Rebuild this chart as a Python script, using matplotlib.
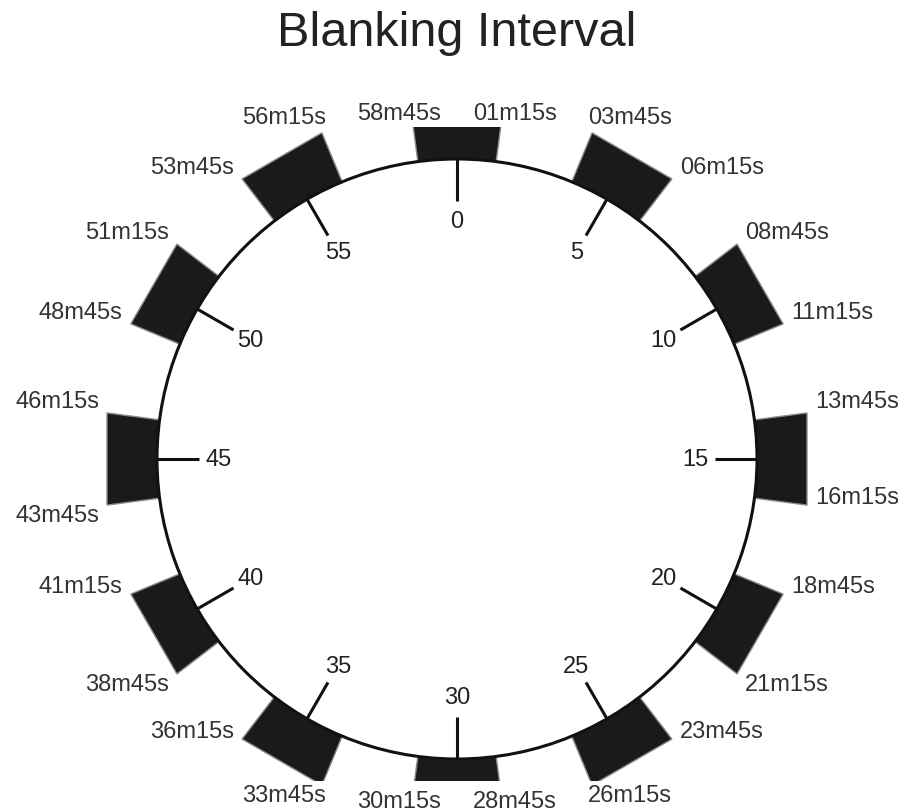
import numpy as np
import matplotlib
matplotlib.use('Agg')
import matplotlib.pyplot as plt
from matplotlib.patches import Polygon, Circle, Rectangle

plt.rcParams['font.family'] = ['Liberation Sans', 'DejaVu Sans']

# Data
title = 'Blanking Interval'
marks = [0, 5, 10, 15, 20, 25, 30, 35, 40, 45, 50, 55]   # minute marks on the dial
half_width = 1.25                                       # blanking lasts 1m15s either side
# labels of the start / end edge of each block, as printed on the chart
start_labels = ['58m45s', '03m45s', '08m45s', '13m45s', '18m45s', '23m45s',
                '28m45s', '33m45s', '38m45s', '43m45s', '48m45s', '53m45s']
end_labels = ['01m15s', '06m15s', '11m15s', '16m15s', '21m15s', '26m15s',
              '30m15s', '36m15s', '41m15s', '46m15s', '51m15s', '56m15s']

# Layout (pixels of the 902x812 image, radius of dial = 1 unit)
W, H = 902, 812
cx_px, cy_px, R_px = 457, 460, 300
px = 1.0 / R_px
r_out = 350 * px          # outer edge of the blocks
r_tick = 0.86             # inner end of tick lines
r_lab = 0.795             # radius of tick labels
clip_top, clip_bot = 332 * px, -322 * px

fig = plt.figure(figsize=(W / 100, H / 100), dpi=100)
ax = fig.add_axes([0, 0, 1, 1])
ax.set_xlim(-cx_px * px, (W - cx_px) * px)
ax.set_ylim(-(H - cy_px) * px, cy_px * px)
ax.axis('off')


def pt(theta, r):
    t = np.radians(theta)
    return r * np.sin(t), r * np.cos(t)


clip = Rectangle((-3, clip_bot), 6, clip_top - clip_bot, transform=ax.transData)
half_ang = half_width * 6
r_corner = r_out / np.cos(np.radians(half_ang))

for i, m in enumerate(marks):
    a0, a1 = (m - half_width) * 6, (m + half_width) * 6
    inner = [pt(a, 1.0) for a in np.linspace(a0, a1, 40)]
    outer = [pt(a1, r_corner), pt(a0, r_corner)]
    poly = Polygon(inner + outer, closed=True, facecolor='#1a1a1a',
                   edgecolor='#8a8a8a', lw=1.0, zorder=2)
    ax.add_patch(poly)
    poly.set_clip_path(clip)

    # tick and its label
    x0, y0 = pt(m * 6, 1.0)
    x1, y1 = pt(m * 6, r_tick)
    ax.plot([x0, x1], [y0, y1], color='#111111', lw=2.2, zorder=3,
            solid_capstyle='butt')
    lx, ly = pt(m * 6, r_lab)
    ax.text(lx, ly, str(m), ha='center', va='center', fontsize=17,
            color='#222222')

    # edge labels
    edges = [a0, a1]
    texts = [start_labels[i], end_labels[i]]
    cosv = [abs(np.cos(np.radians(th))) for th in edges]
    for k, th in enumerate(edges):
        s = 1 if np.sin(np.radians(th)) > 0 else -1
        c = np.cos(np.radians(th))
        ex, ey = pt(th, r_corner)
        if abs(c) > 0.95:
            tx = ex + s * 12 * px
            if c > 0:
                ax.text(tx, clip_top + 3 * px, texts[k], ha='center', va='bottom',
                        fontsize=17, color='#333333')
            else:
                ax.text(tx, clip_bot - 9 * px, texts[k], ha='center', va='top',
                        fontsize=17, color='#333333')
            continue
        dx = 8 if abs(c) < 0.9 else -4
        if c > 0:
            dy = 16 if abs(c) > 0.9 else 12
        elif cosv[k] < cosv[1 - k]:
            dy = 8
        else:
            dy = -10
        ax.text(ex + s * dx * px, ey + dy * px, texts[k],
                ha='left' if s > 0 else 'right', va='center',
                fontsize=17, color='#333333')

ax.add_patch(Circle((0, 0), 1.0, fill=False, lw=2.2, edgecolor='#111111',
                    zorder=3))

fig.text(cx_px / W, 1 - 34 / H, title, ha='center', va='center',
         fontsize=35, color='#222222')

fig.savefig('out.png', dpi=100)
